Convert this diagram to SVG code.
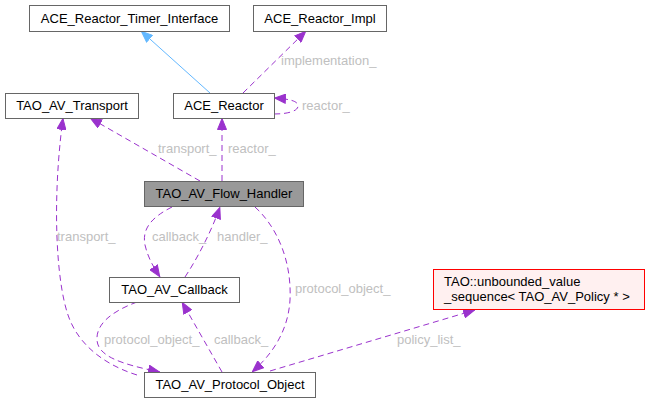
<svg xmlns="http://www.w3.org/2000/svg" width="649" height="403" viewBox="0 0 649 403">
<style>
.node rect{fill:#ffffff;stroke:#666666;stroke-width:1}
.node text{font-family:"Liberation Sans",Arial,sans-serif;font-size:13px;fill:#000000;text-anchor:middle}
.lbl{font-family:"Liberation Sans",Arial,sans-serif;font-size:13px;fill:#c0c0c0}
</style>
<defs>
<marker id="ap" viewBox="0 0 12 10" refX="12" refY="5" markerWidth="12" markerHeight="10" markerUnits="userSpaceOnUse" orient="auto">
<path d="M0.5,0.5 L11.5,5 L0.5,9.5 z" fill="#9a32cd" stroke="#9a32cd" stroke-width="1"/>
</marker>
<marker id="ab" viewBox="0 0 12 10" refX="12" refY="5" markerWidth="12" markerHeight="10" markerUnits="userSpaceOnUse" orient="auto">
<path d="M0.5,0.5 L11.5,5 L0.5,9.5 z" fill="#63b8ff" stroke="#63b8ff" stroke-width="1"/>
</marker>
</defs>
<rect width="649" height="403" fill="#ffffff"/>
<g id="edges" fill="none" stroke="#9a32cd" stroke-width="1" stroke-dasharray="6,4">
<path d="M210,93 L141,31" stroke="#63b8ff" stroke-dasharray="none" marker-end="url(#ab)"/>
<path d="M243,93 L306,31" stroke="#9a32cd" marker-end="url(#ap)"/>
<path d="M274,114 C288,114 298,111 298,106 C298,101 290,99 274,98" marker-end="url(#ap)"/>
<path d="M200,181 L90,118" marker-end="url(#ap)"/>
<path d="M222,181 L222,118" marker-end="url(#ap)"/>
<path d="M172,207 C150,218 142,230 145,245 C148,258 154,268 160,277" marker-end="url(#ap)"/>
<path d="M185,277 C195,262 210,235 220,207" marker-end="url(#ap)"/>
<path d="M255,207 C275,225 292,258 290,300 C288,335 268,358 252,372" marker-end="url(#ap)"/>
<path d="M137,375 C105,365 78,345 68,315 C56,280 52,200 63,118" marker-end="url(#ap)"/>
<path d="M137,302 C110,312 96,325 97,340 C98,356 120,364 160,372" marker-end="url(#ap)"/>
<path d="M222,372 L182,302" marker-end="url(#ap)"/>
<path d="M270,371 L475,310" marker-end="url(#ap)"/>
<g stroke="none">
<text class="lbl" x="281" y="65">implementation_</text>
<text class="lbl" x="302" y="110">reactor_</text>
<text class="lbl" x="158" y="153">transport_</text>
<text class="lbl" x="228" y="153">reactor_</text>
<text class="lbl" x="152" y="241">callback_</text>
<text class="lbl" x="217" y="241">handler_</text>
<text class="lbl" x="57" y="241">transport_</text>
<text class="lbl" x="295" y="293">protocol_object_</text>
<text class="lbl" x="104" y="344">protocol_object_</text>
<text class="lbl" x="214" y="344">callback_</text>
<text class="lbl" x="397" y="344">policy_list_</text>
</g>
</g>
<g id="ACE_Reactor_Timer_Interface" class="node">
<rect x="29.5" y="5.5" width="200" height="26"/>
<text x="129.5" y="23">ACE_Reactor_Timer_Interface</text>
</g>
<g id="ACE_Reactor_Impl" class="node">
<rect x="253.5" y="5.5" width="133" height="26"/>
<text x="320" y="23">ACE_Reactor_Impl</text>
</g>
<g id="TAO_AV_Transport" class="node">
<rect x="5.5" y="93.5" width="133" height="25"/>
<text x="72" y="110">TAO_AV_Transport</text>
</g>
<g id="ACE_Reactor" class="node">
<rect x="173.5" y="93.5" width="101" height="25"/>
<text x="224" y="110">ACE_Reactor</text>
</g>
<g id="TAO_AV_Flow_Handler" class="node">
<rect x="144.5" y="181.5" width="159" height="25" style="fill:#999999"/>
<text x="224" y="198">TAO_AV_Flow_Handler</text>
</g>
<g id="TAO_AV_Callback" class="node">
<rect x="109.5" y="277.5" width="130" height="25"/>
<text x="174.5" y="294">TAO_AV_Callback</text>
</g>
<g id="TAO_AV_Protocol_Object" class="node">
<rect x="144.5" y="372.5" width="171" height="25"/>
<text x="230" y="389">TAO_AV_Protocol_Object</text>
</g>
<g id="TAO_unbounded_value_sequence" class="node">
<rect x="433.5" y="269.5" width="211" height="40" style="fill:#fff0f0;stroke:#ff0000"/>
<text x="444" y="285.5" style="text-anchor:start">TAO::unbounded_value</text>
<text x="444" y="300.5" style="text-anchor:start">_sequence&lt; TAO_AV_Policy * &gt;</text>
</g>
</svg>
